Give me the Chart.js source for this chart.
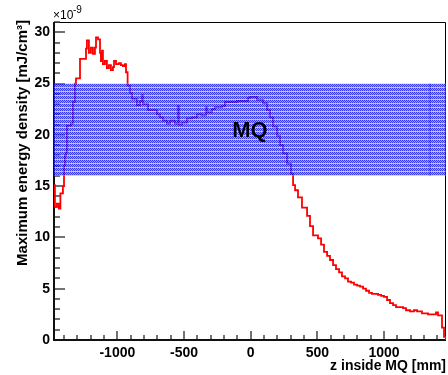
<!DOCTYPE html>
<html>
<head>
<meta charset="utf-8">
<script src="https://cdn.jsdelivr.net/npm/chart.js@4.4.0/dist/chart.umd.min.js"></script>
<style>
  body { margin: 0; background: #fff; }
  #wrap { width: 448px; height: 375px; }
</style>
</head>
<body>
<div id="wrap"><canvas id="chEnergy" width="448" height="375"></canvas></div>
<script>
/* max energy density along MQ, ROOT-like histogram */

// bin left edges along z [mm]
var binZ = [
  -1475,-1468,-1453,-1438,-1427,-1408,-1400,-1393,-1385,-1378,
  -1348,-1333,-1318,-1310,-1280,-1235,-1228,-1213,-1198,-1183,
  -1168,-1160,-1145,-1130,-1123,-1115,-1108,-1093,-1078,-1063,
  -1048,-1033,-1025,-1010,-988,-973,-958,-943,-935,-923,
  -905,-890,-853,-830,-815,-808,-770,-703,-680,-658,
  -628,-605,-568,-545,-538,-515,-478,-440,-403,-365,
  -335,-328,-290,-268,-215,-193,-103,-20,-5,48,
  93,123,145,168,198,220,243,273,303,318,
  333,355,385,423,445,468,505,528,550,573,
  595,618,640,663,685,708,730,753,775,798,
  820,843,865,888,910,933,955,978,1000,1023,
  1045,1068,1090,1120,1143,1165,1195,1225,1248,1285,
  1330,1390,1405,1435,1450
];
// max energy density per bin [x1e-9 mJ/cm3]
var energyDensity = [
  15.1,13.0,13.3,12.8,14.3,15.0,17.0,18.0,18.3,20.9,
  21.1,23.2,25.0,25.5,27.4,28.4,29.2,28.0,28.5,27.9,
  28.5,29.5,29.3,28.0,27.2,28.2,26.9,27.2,26.5,26.8,
  26.3,26.6,27.2,26.9,27.0,26.8,26.7,26.9,26.1,24.8,
  24.1,23.5,22.9,23.3,23.9,23.0,22.4,22.0,21.7,21.4,
  21.1,21.4,21.1,22.8,21.0,21.2,21.6,21.7,22.0,21.9,
  22.7,22.2,22.5,22.7,22.8,23.2,23.3,23.6,23.7,23.4,
  23.1,22.4,21.7,20.8,19.9,19.0,18.2,17.2,16.2,15.1,
  14.6,13.9,12.9,12.1,11.1,10.2,9.9,9.3,8.6,8.2,
  7.8,7.3,6.9,6.6,6.2,6.0,5.7,5.6,5.4,5.3,
  5.2,5.0,4.8,4.6,4.5,4.5,4.4,4.3,4.2,3.9,
  3.6,3.4,3.2,3.2,3.1,2.9,2.8,2.9,2.8,2.6,
  2.5,2.7,2.4,1.2,0.3
];
var zMin = -1475, zMax = 1465;
var yMax = 31;
var xTickVals = [-1000, -500, 0, 500, 1000];
var yTickVals = [0, 5, 10, 15, 20, 25, 30];

// MQ acceptance band
var bandZ = [zMin, zMax];
var bandLow = 16, bandHigh = 25;
var bandMarkZ = 1345;
var labelPos = { z: -5, y: 20.4 };

// histogram points (step-before: value holds till next edge)
var histPts = binZ.map(function (z, i) { return { x: z, y: energyDensity[i] }; });
histPts.push({ x: zMax, y: 0 });

// hatch-like fill pattern
function makePattern() {
  var c = document.createElement('canvas');
  c.width = 2; c.height = 4;
  var g = c.getContext('2d');
  var dark = 'rgba(0,0,235,0.78)', pale = 'rgba(95,95,245,0.6)', light = 'rgba(150,150,255,0.55)';
  var cells = [[dark, pale], [pale, dark], [dark, pale], [light, light]];
  for (var r = 0; r < 4; r++) {
    for (var k = 0; k < 2; k++) { g.fillStyle = cells[r][k]; g.fillRect(k, r, 1, 1); }
  }
  return g.createPattern(c, 'repeat');
}

var ctxEl = document.getElementById('chEnergy');
var bandFill = makePattern();

var rootFrame = {
  id: 'rootFrame',
  beforeDatasetsDraw: function (chart) {
    var ctx = chart.ctx, a = chart.chartArea;
    var xs = chart.scales.x, ys = chart.scales.y;
    ctx.save();
    // thin frame
    ctx.strokeStyle = '#000';
    ctx.lineWidth = 1;
    ctx.beginPath();
    ctx.moveTo(a.left, a.top + 0.5); ctx.lineTo(a.right - 0.5, a.top + 0.5);
    ctx.lineTo(a.right - 0.5, a.bottom);
    ctx.stroke();
    // ticks
    ctx.strokeStyle = '#444';
    ctx.lineWidth = 1.5;
    ctx.beginPath();
    for (var z = -1400; z <= 1400; z += 100) {
      var px = Math.round(xs.getPixelForValue(z));
      var len = (z % 500 === 0) ? 9 : 5;
      ctx.moveTo(px, a.bottom); ctx.lineTo(px, a.bottom - len);
    }
    for (var v = 1; v <= 31; v++) {
      var py = Math.round(ys.getPixelForValue(v));
      var l2 = (v % 5 === 0) ? 11 : 6;
      ctx.moveTo(a.left, py); ctx.lineTo(a.left + l2, py);
    }
    ctx.stroke();
    // axis lines
    ctx.strokeStyle = '#111';
    ctx.lineWidth = 2;
    ctx.beginPath();
    ctx.moveTo(a.left, a.top); ctx.lineTo(a.left, a.bottom);
    ctx.lineTo(a.right, a.bottom);
    ctx.stroke();
    ctx.restore();
  },
  afterDraw: function (chart) {
    var ctx = chart.ctx, a = chart.chartArea;
    var xs = chart.scales.x, ys = chart.scales.y;
    ctx.save();
    ctx.fillStyle = '#000';
    // label inside band
    ctx.font = 'bold 22px "Liberation Sans", Arial, sans-serif';
    ctx.textAlign = 'center';
    ctx.textBaseline = 'middle';
    ctx.fillText('MQ', xs.getPixelForValue(labelPos.z), ys.getPixelForValue(labelPos.y));
    // axis titles
    ctx.font = 'bold 14px "Liberation Sans", Arial, sans-serif';
    ctx.textAlign = 'right';
    ctx.textBaseline = 'alphabetic';
    ctx.fillText('z inside MQ [mm]', a.right, 370);
    ctx.save();
    ctx.font = 'bold 15px "Liberation Sans", Arial, sans-serif';
    ctx.translate(23, 20);
    ctx.rotate(-Math.PI / 2);
    ctx.textBaseline = 'middle';
    ctx.fillText('Maximum energy density [mJ/cm\u00B3]', 0, 0);
    ctx.restore();
    // exponent
    ctx.textAlign = 'left';
    ctx.font = '12px "Liberation Sans", Arial, sans-serif';
    ctx.fillText('\u00D710', a.left - 1, 19);
    ctx.font = '10px "Liberation Sans", Arial, sans-serif';
    ctx.fillText('-9', a.left + 19, 13);
    ctx.restore();
  }
};

new Chart(ctxEl, {
  type: 'line',
  data: {
    datasets: [
      {
        // band on top so the curve shows through it
        data: bandZ.map(function (z) { return { x: z, y: bandHigh }; }),
        fill: { value: bandLow },
        backgroundColor: bandFill,
        borderColor: 'rgba(0,0,0,0)',
        borderWidth: 0,
        pointRadius: 0
      },
      {
        data: [{ x: bandMarkZ, y: bandLow }, { x: bandMarkZ, y: bandHigh }],
        borderColor: 'rgba(20,20,220,0.8)',
        borderWidth: 1,
        pointRadius: 0,
        fill: false
      },
      {
        data: histPts,
        stepped: true,
        borderColor: '#ff0000',
        borderWidth: 1.8,
        pointRadius: 0,
        fill: false
      }
    ]
  },
  options: {
    responsive: false,
    animation: false,
    devicePixelRatio: 1,
    layout: { padding: { top: 22, right: 2, left: 0, bottom: 0 } },
    plugins: { legend: { display: false }, tooltip: { enabled: false } },
    scales: {
      x: {
        type: 'linear',
        min: zMin, max: zMax,
        grid: { display: false, drawTicks: false },
        border: { display: false },
        afterBuildTicks: function (s) { s.ticks = xTickVals.map(function (v) { return { value: v }; }); },
        ticks: {
          padding: 5, color: '#000', autoSkip: false,
          font: { family: '"Liberation Sans", Arial, sans-serif', size: 14, weight: 'bold' },
          maxRotation: 0,
          callback: function (v) { return String(v); }
        },
        afterFit: function (s) { s.height = 35; }
      },
      y: {
        min: 0, max: yMax,
        grid: { display: false, drawTicks: false },
        border: { display: false },
        afterBuildTicks: function (s) { s.ticks = yTickVals.map(function (v) { return { value: v }; }); },
        ticks: {
          padding: 4, color: '#000',
          font: { family: '"Liberation Sans", Arial, sans-serif', size: 14, weight: 'bold' },
          callback: function (v) { return String(v); }
        },
        afterFit: function (s) { s.width = 54; }
      }
    }
  },
  plugins: [rootFrame]
});
</script>
</body>
</html>
